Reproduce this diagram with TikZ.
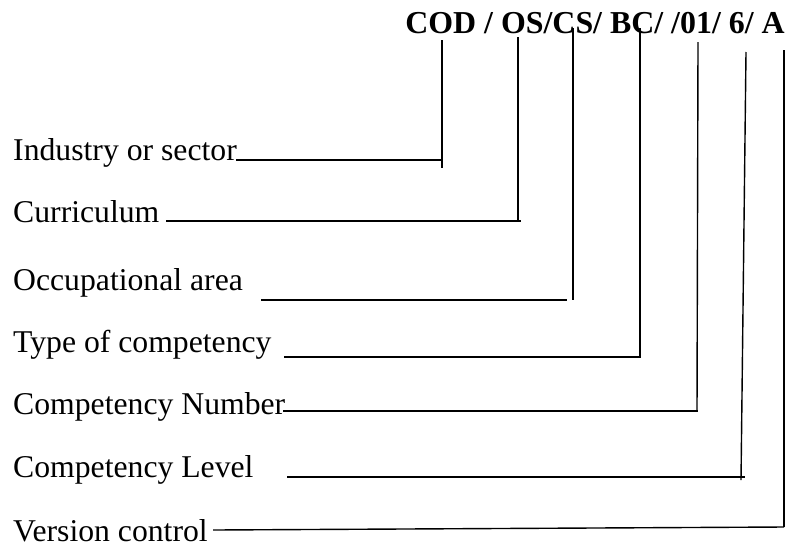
\documentclass[tikz,border=0pt]{standalone}
\usepackage{fontspec}
\setmainfont{Liberation Serif}
\begin{document}
\begin{tikzpicture}[x=1pt,y=-1pt,
  lab/.style={anchor=base west, inner sep=0pt, font=\fontsize{31.7}{36}\selectfont},
  ttl/.style={anchor=base, inner sep=0pt, font=\fontsize{31.9}{36}\selectfont\bfseries},
  conn/.style={line width=1.4pt, black}]
\useasboundingbox (0,0) rectangle (791,552);
\fill[white] (0,0) rectangle (791,552);
\node[ttl] (title) at (595,33) {COD / OS/CS/ BC/ /01/ 6/ A};
\node[lab] (l1) at (13,160) {Industry or sector};
\node[lab] (l2) at (13,222) {Curriculum};
\node[lab] (l3) at (13,290) {Occupational area};
\node[lab] (l4) at (13,352) {Type of competency};
\node[lab] (l5) at (13,414) {Competency Number};
\node[lab] (l6) at (13,477) {Competency Level};
\node[lab] (l7) at (13,541) {Version control};
% coordinates
\coordinate (s1) at (236,160); \coordinate (e1) at (441,160);
\coordinate (t1) at (442,40);  \coordinate (b1) at (442,168);
\coordinate (s2) at (166,221); \coordinate (e2) at (521,221);
\coordinate (t2) at (518,37);  \coordinate (b2) at (518,220);
\coordinate (s3) at (261,300); \coordinate (e3) at (567,300);
\coordinate (t3) at (573,28);  \coordinate (b3) at (573,300);
\coordinate (s4) at (284,357); \coordinate (e4) at (641,357);
\coordinate (t4) at (640,28);  \coordinate (b4) at (640,357);
\coordinate (s5) at (283,411); \coordinate (e5) at (698,411);
\coordinate (t5) at (698,42);  \coordinate (b5) at (697,411);
\coordinate (s6) at (287,477); \coordinate (e6) at (745,477);
\coordinate (t6) at (746,52);  \coordinate (b6) at (741,480);
\coordinate (s7) at (213,530); \coordinate (e7) at (784,527);
\coordinate (t7) at (784,50);  \coordinate (b7) at (784,527);
\foreach \i in {1,...,7}{
  \draw[conn] (s\i) -- (e\i);
  \draw[conn] (t\i) -- (b\i);
}
\end{tikzpicture}
\end{document}
